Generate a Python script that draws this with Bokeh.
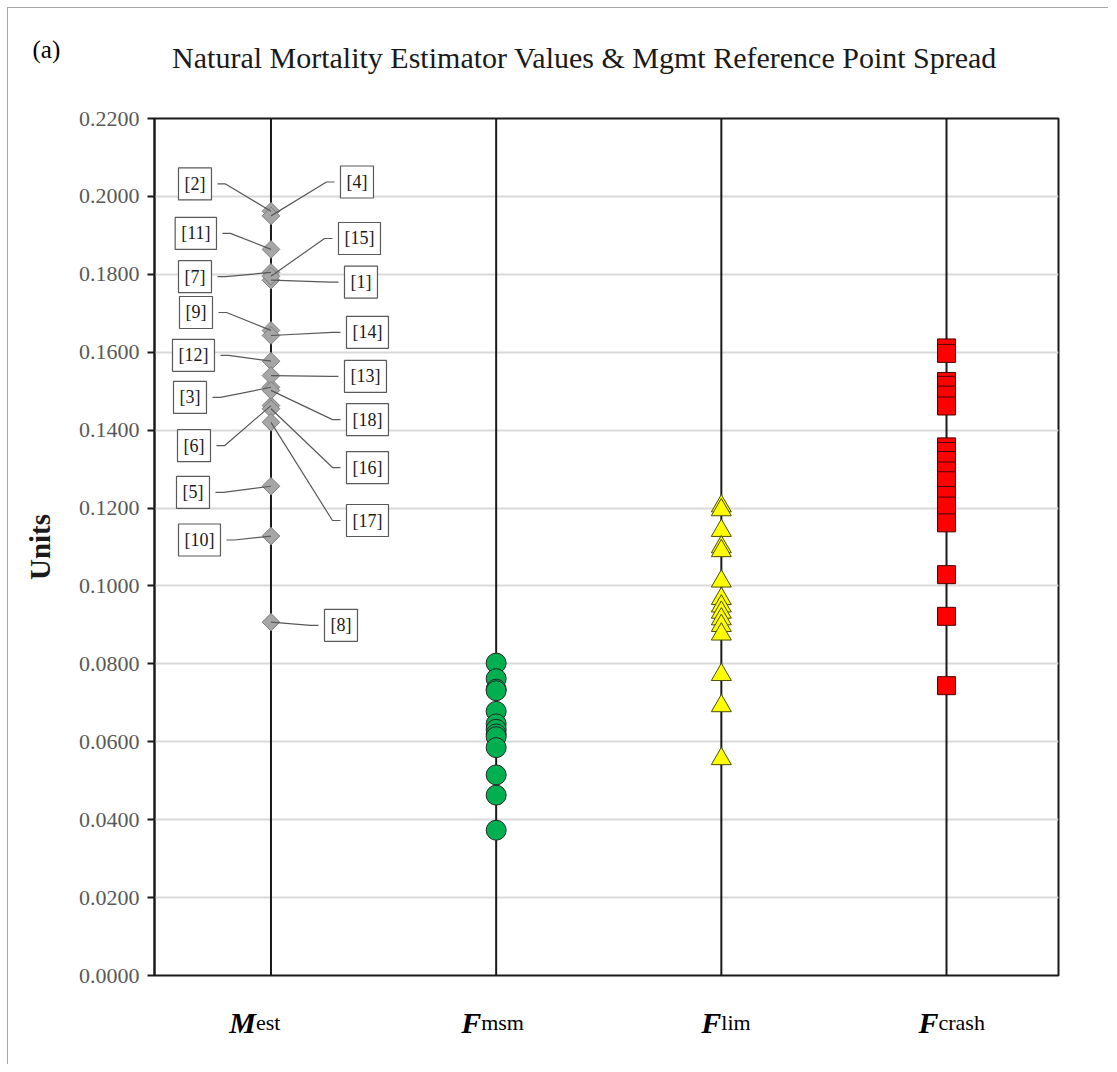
import math
from bokeh.plotting import figure
from bokeh.layouts import column
from bokeh.models import (Range1d, FixedTicker, NumeralTickFormatter, Label)
from bokeh.embed import file_html
from bokeh.resources import INLINE

# ---------------- data ----------------
categories = ["M", "F", "F", "F"]
category_subs = ["est", "msm", "lim", "crash"]

m_ids = [1, 2, 3, 4, 5, 6, 7, 8, 9, 10, 11, 12, 13, 14, 15, 16, 17, 18]
m_values = [0.1785, 0.1962, 0.1510, 0.1950, 0.1256, 0.1463, 0.1805, 0.0907, 0.1656,
            0.1128, 0.1864, 0.1577, 0.1540, 0.1643, 0.1795, 0.1455, 0.1420, 0.1502]

f_msm = [0.0802, 0.0762, 0.0735, 0.0731, 0.0678, 0.0646, 0.0632, 0.0620, 0.0613,
         0.0585, 0.0515, 0.0463, 0.0373]

f_lim = [0.1205, 0.1195, 0.1142, 0.1100, 0.1090, 0.1012, 0.0967, 0.0948, 0.0932,
         0.0915, 0.0898, 0.0876, 0.0772, 0.0692, 0.0556]

f_crash = [0.1611, 0.1597, 0.1525, 0.1515, 0.1490, 0.1462, 0.1357, 0.1345, 0.1322,
           0.1295, 0.1270, 0.1232, 0.1205, 0.1162, 0.1029, 0.0922, 0.0744]

y_ticks = [0.0, 0.02, 0.04, 0.06, 0.08, 0.10, 0.12, 0.14, 0.16, 0.18, 0.20, 0.22]

title_text = "Natural Mortality Estimator Values & Mgmt Reference Point Spread"
panel_tag = "(a)"

# callout layout (box edge offset in px from the M column, box centre in data units)
callout_dx = [67.5, -53.5, -58.5, 63.5, -55.5, -54.5, -53.5, 47.5, -52.5,
              -44.5, -48.5, -50.5, 67.5, 69.5, 61.5, 69.5, 69.5, 69.5]
callout_y = [0.1780, 0.2032, 0.1484, 0.2037, 0.1240, 0.1360, 0.1794, 0.0899, 0.1702,
             0.1118, 0.1905, 0.1592, 0.1538, 0.1651, 0.1892, 0.1304, 0.1168, 0.1427]

# ---------------- figures ----------------
SERIF = "Liberation Serif"
W = 1100
X0, X1 = 0.4827, 4.4973
PX = (X1 - X0) / 904.0  # data units per px horizontally
xr = Range1d(X0, X1)


def bare(fig):
    fig.axis.visible = False
    fig.grid.visible = False
    fig.outline_line_color = None
    return fig


# --- title strip ---
TOP_H = 95
top = bare(figure(width=W, height=TOP_H, output_backend="svg", toolbar_location=None,
                  x_range=Range1d(0, W), y_range=Range1d(0, TOP_H), min_border=0))
top.frame_align = False
top.add_layout(Label(x=576, y=46, text=title_text, text_align="center",
                     text_baseline="alphabetic", text_font=SERIF,
                     text_font_size="30px", text_color="#1a1a1a"))
top.add_layout(Label(x=24, y=54, text=panel_tag, text_align="left",
                     text_baseline="alphabetic", text_font=SERIF,
                     text_font_size="25px", text_color="black"))

# --- main chart ---
p = figure(width=W, height=887, output_backend="svg", toolbar_location=None,
           x_range=xr, y_range=Range1d(0, 0.22),
           min_border_left=146, min_border_right=50, min_border_top=15,
           min_border_bottom=15)

p.xaxis.visible = False
p.xgrid.visible = False
p.ygrid.grid_line_color = "#d9d9d9"
p.ygrid.grid_line_width = 2
p.outline_line_color = "#1a1a1a"
p.outline_line_width = 2

ya = p.yaxis[0]
ya.ticker = FixedTicker(ticks=y_ticks)
ya.formatter = NumeralTickFormatter(format="0.0000")
ya.major_label_text_font = SERIF
ya.major_label_text_font_size = "22px"
ya.major_label_text_color = "#595959"
ya.major_tick_out = 7
ya.major_tick_in = 0
ya.minor_tick_out = 0
ya.minor_tick_in = 0
ya.axis_line_color = "#1a1a1a"
ya.axis_line_width = 2
ya.major_tick_line_color = "#1a1a1a"
ya.major_tick_line_width = 2
ya.major_label_standoff = 8
ya.axis_label = "Units"
ya.axis_label_text_font = SERIF
ya.axis_label_text_font_size = "29px"
ya.axis_label_text_font_style = "bold"
ya.axis_label_text_color = "#1a1a1a"
ya.axis_label_standoff = 20

# vertical category lines
cat_x = [1, 2, 3, 4]
p.segment(x0=cat_x, y0=[0] * 4, x1=cat_x, y1=[0.22] * 4, line_color="#1a1a1a",
          line_width=2)

# markers
p.scatter(x=[1] * len(m_values), y=m_values, marker="square", angle=math.pi / 4,
          size=12.5, fill_color="#a6a6a6", line_color="#7f7f7f", line_width=1)
p.scatter(x=[2] * len(f_msm), y=f_msm, marker="circle", size=20,
          fill_color="#00b050", line_color="#262626", line_width=1)
p.scatter(x=[3] * len(f_lim), y=f_lim, marker="triangle", size=20,
          fill_color="#ffff00", line_color="#4d4d00", line_width=1)
p.scatter(x=[4] * len(f_crash), y=f_crash, marker="square", size=18,
          fill_color="#ff0000", line_color="#4a0000", line_width=1)

# callouts with leader lines
xs, ys = [], []
for mid, val, dx, ly in zip(m_ids, m_values, callout_dx, callout_y):
    stub = 8 if dx > 0 else -8
    xs.append([1 + dx * PX, 1 + (dx - stub) * PX, 1])
    ys.append([ly, ly, val])
p.multi_line(xs=xs, ys=ys, line_color="#595959", line_width=1.2)

for mid, dx, ly in zip(m_ids, callout_dx, callout_y):
    pad = 6
    if dx > 0:
        align, off = "left", dx + pad
    else:
        align, off = "right", dx - pad
    p.add_layout(Label(x=1, y=ly, x_offset=off, text=f"[{mid}]", text_align=align,
                       text_baseline="middle", text_font=SERIF,
                       text_font_size="18px", text_color="#1a1a1a",
                       padding=pad, background_fill_color="white",
                       border_line_color="#595959", border_line_width=1.2))

# --- category label strip (shares the x range of the chart) ---
bot = bare(figure(width=W, height=74, output_backend="svg", toolbar_location=None,
                  x_range=xr, y_range=Range1d(0, 74), min_border_left=146,
                  min_border_right=50, min_border_top=0, min_border_bottom=0))
split_px = [-15, -15, 0, -8]
for cx, big, sub, sp in zip(cat_x, categories, category_subs, split_px):
    bot.add_layout(Label(x=cx, y=42, x_offset=sp, text=big, text_align="right",
                         text_baseline="alphabetic", text_font=SERIF,
                         text_font_size="30px", text_font_style="bold italic",
                         text_color="black"))
    bot.add_layout(Label(x=cx, y=42, x_offset=sp, text=sub, text_align="left",
                         text_baseline="alphabetic", text_font=SERIF,
                         text_font_size="22px", text_color="black"))

layout = column(top, p, bot, spacing=0)
layout.styles = {"margin": "7px 0 0 7px", "border-left": "1px solid #a6a6a6",
                 "border-top": "1px solid #a6a6a6"}

open("out.html", "w").write(file_html(layout, INLINE))
